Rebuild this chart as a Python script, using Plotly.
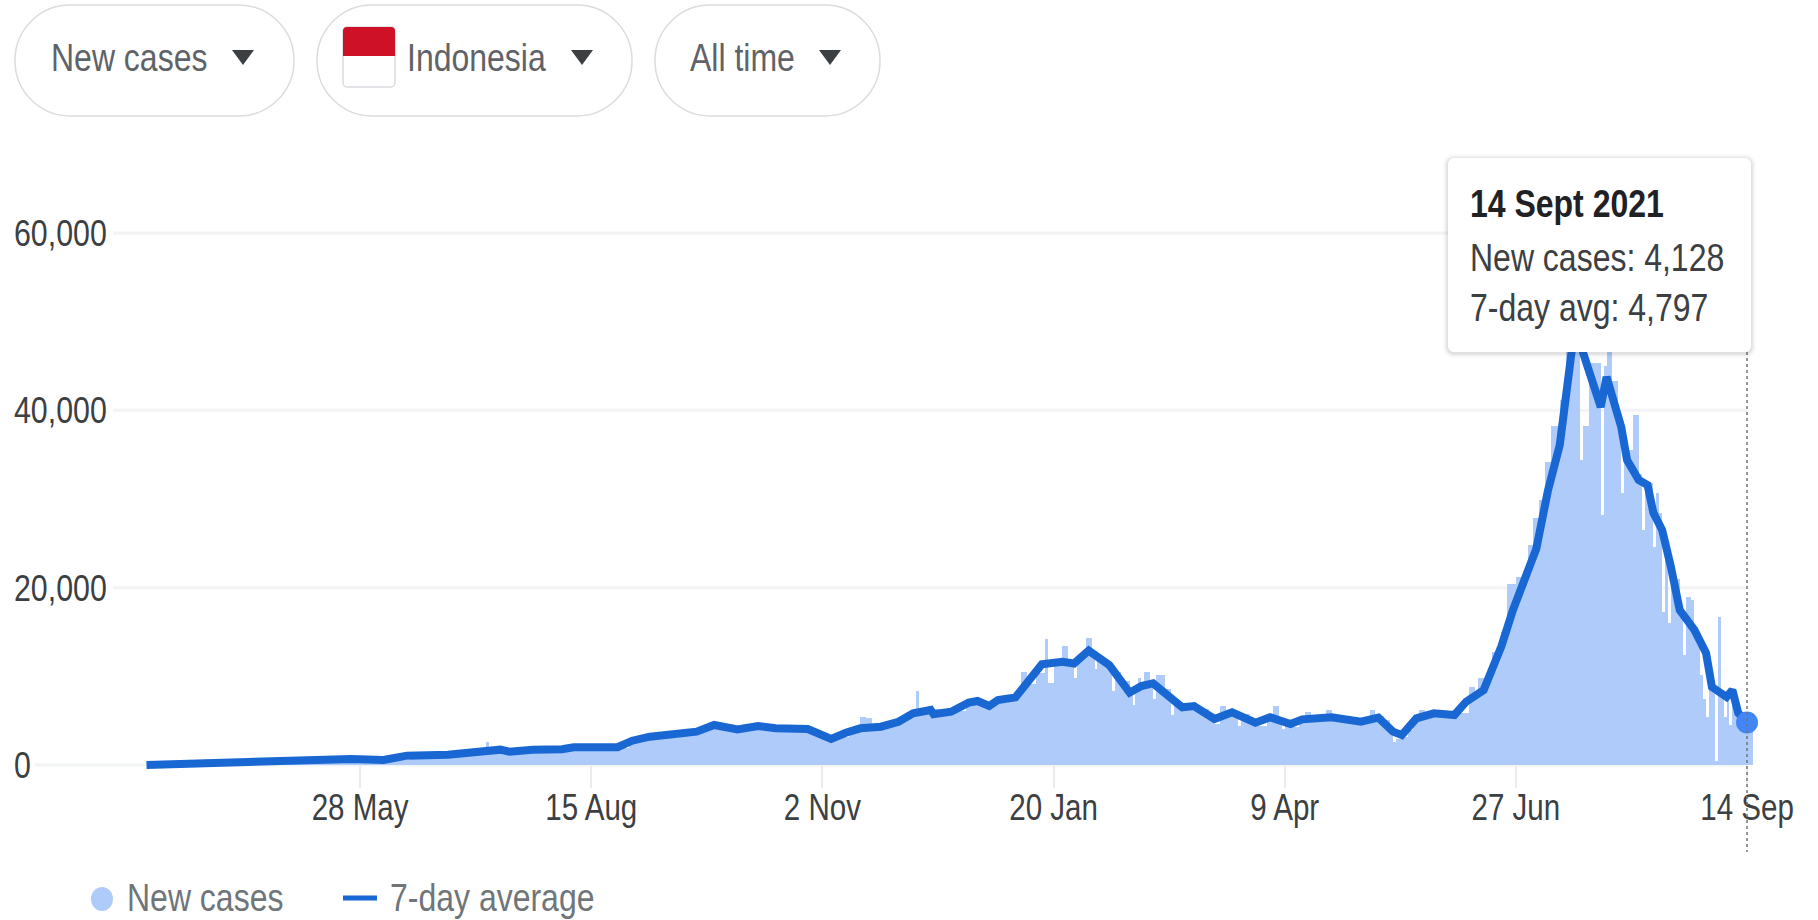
import pandas as pd
import plotly.graph_objects as go

START = pd.Timestamp("2020-03-16")
W, H = 1818, 920
FONT = "Liberation Sans, Arial, sans-serif"

bar_days = [
    0, 10, 20, 30, 40, 50, 60, 70, 80, 90,
    100, 110, 116, 117, 125, 135, 145, 155, 160, 165,
    170, 175, 180, 185, 190, 194, 198, 202, 206, 210,
    215, 220, 225, 229, 233, 236, 240, 244, 246, 248,
    252, 256, 260, 263, 264, 268, 272, 276, 280, 283,
    286, 290, 295, 299, 301, 304, 307, 308, 310, 313,
    315, 317, 318, 321, 323, 324, 325, 327, 330, 331,
    333, 336, 337, 338, 339, 340, 341, 343, 344, 345,
    348, 350, 351, 354, 357, 360, 363, 365, 367, 369,
    372, 373, 374, 377, 380, 383, 385, 387, 388, 389,
    391, 394, 396, 398, 403, 405, 410, 414, 416, 418,
    420, 423, 425, 426, 427, 429, 431, 433, 435, 437,
    440, 445, 449, 452, 454, 455, 458, 460, 463, 465,
    468, 472, 474, 476, 478, 480, 483, 485, 486, 487,
    489, 490, 491, 493, 497, 498, 499, 501, 503, 504,
    505, 508, 510, 511, 512, 515, 516, 517, 518, 519,
    520, 521, 522, 524, 525, 526, 528, 529, 530, 531,
    532, 533, 534, 535, 536, 537, 538, 539, 540, 541,
    542, 544, 546, 547,
]
new_cases = [
    50, 120, 220, 300, 400, 450, 500, 650, 560, 950,
    1100, 1300, 2630, 1650, 1500, 1750, 1900, 2050, 1950, 2700,
    3100, 3400, 3550, 3700, 4100, 4600, 4300, 4000, 4250, 4450,
    4150, 4100, 4100, 3600, 3000, 3200, 3800, 5400, 5300, 4300,
    4400, 4900, 5500, 8380, 6000, 6300, 5800, 6100, 7200, 7500,
    6800, 7400, 7800, 10500, 9200, 10400, 14200, 9250, 11800, 13500,
    11900, 9900, 12300, 14400, 12700, 10900, 12000, 11500, 8400, 10500,
    9500, 8300, 6800, 8200, 9900, 8700, 10500, 8700, 7500, 10150,
    8600, 5700, 7100, 6300, 6700, 6300, 5300, 4700, 6650, 6200,
    6000, 4400, 5800, 5000, 4400, 5700, 6650, 5200, 4100, 4900,
    4300, 5300, 6000, 5400, 6200, 5500, 5400, 4800, 4700, 6200,
    5600, 5100, 3400, 2600, 3000, 3200, 4000, 5300, 6200, 5600,
    5900, 5700, 5900, 8830, 8000, 9800, 9500, 12780, 15000, 20500,
    21200, 24800, 27860, 29900, 34200, 38240, 41170, 47000, 56757, 50000,
    49000, 34400, 38240, 45350, 28200, 45000, 47500, 43400, 38500, 30700,
    35530, 39480, 32900, 26500, 31800, 24600, 30700, 28500, 17260, 24500,
    16000, 23000, 21000, 18000, 12400, 18950, 18600, 15000, 14000, 10150,
    7500, 5400, 9000, 8500, 500, 16700, 8000, 5400, 7500, 4500,
    7000, 5500, 5000, 4128,
]

avg_days = [
    0, 21, 43, 70, 81, 89, 103, 116, 121, 124,
    132, 142, 146, 161, 166, 172, 179, 188, 194, 202,
    209, 215, 226, 234, 239, 244, 251, 257, 262, 268,
    269, 275, 281, 284, 288, 291, 297, 306, 313, 317,
    322, 329, 336, 340, 344, 350, 354, 358, 365, 371,
    379, 384, 391, 395, 405, 415, 421, 426, 429, 434,
    440, 447, 451, 457, 461, 463, 467, 475, 479, 483,
    487, 489, 491, 493, 497, 499, 504, 506, 510, 513,
    515, 518, 520, 521, 524, 526, 529, 533, 535, 540,
    542, 544, 547,
]
avg_cases = [
    0, 230, 450, 680, 560, 1050, 1160, 1610, 1730, 1500,
    1730, 1770, 2000, 2000, 2740, 3190, 3500, 3760, 4510, 4020,
    4400, 4140, 4060, 2930, 3640, 4140, 4320, 4880, 5830, 6200,
    5720, 6010, 7030, 7220, 6650, 7330, 7630, 11360, 11650, 11450,
    12900, 11280, 8160, 8900, 9210, 7520, 6510, 6650, 5190, 5940,
    4770, 5380, 4620, 5150, 5380, 4880, 5340, 3760, 3380, 5260,
    5830, 5640, 7140, 8460, 11470, 13340, 17480, 24400, 31000, 36100,
    46470, 51000, 46470, 44200, 40380, 43770, 38130, 34400, 32150, 31580,
    28430, 26500, 24250, 22330, 17480, 16580, 15230, 12630, 8800, 7670,
    8460, 5870, 4797,
]

x_tick_dates = ["2020-05-28", "2020-08-15", "2020-11-02", "2021-01-20",
                "2021-04-09", "2021-06-27", "2021-09-14"]
x_tick_labels = ["28 May", "15 Aug", "2 Nov", "20 Jan", "9 Apr", "27 Jun", "14 Sep"]
y_ticks = [0, 20000, 40000, 60000]
y_tick_labels = ["0", "20,000", "40,000", "60,000"]
y_grid_start_px = [35, 113, 113, 113]

PX_PER_DAY = 2.926
PX_DAY0 = 146.5
LEFT_PX = 11
BASE_PX, TOP_PX = 765, 233
Y_PAD = 5000  # extra axis room so the end tick labels are kept
PAD_PX = Y_PAD * (BASE_PX - TOP_PX) / 60000


def day(n):
    return START + pd.Timedelta(days=n)


def fx(px):
    return px / W


def fy(px):
    return 1 - px / H


def round_path(x0, y0, x1, y1, r):
    a, b, c, d = fx(x0), fy(y0), fx(x1), fy(y1)
    rx, ry = r / W, r / H
    kx, ky = rx * 0.45, ry * 0.45
    return (f"M{a+rx},{b} L{c-rx},{b} C{c-kx},{b} {c},{b-ky} {c},{b-ry} L{c},{d+ry} "
            f"C{c},{d+ky} {c-kx},{d} {c-rx},{d} L{a+rx},{d} C{a+kx},{d} {a},{d+ky} {a},{d+ry} "
            f"L{a},{b-ry} C{a},{b-ky} {a+kx},{b} {a+rx},{b} Z")


def tri(cx, cy_top, hw=11, h=15, col="#3c4043"):
    return dict(type="path", xref="paper", yref="paper",
                path=f"M{fx(cx-hw)},{fy(cy_top)} L{fx(cx+hw)},{fy(cy_top)} L{fx(cx)},{fy(cy_top+h)} Z",
                fillcolor=col, line_width=0)


def text(px, py, s, size=39, color="#5f6368", bold=False):
    return dict(xref="paper", yref="paper", x=fx(px), y=fy(py), xanchor="left", yanchor="middle",
                text=f"<b>{s}</b>" if bold else s, showarrow=False, align="left",
                font=dict(family=FONT, size=size, color=color))


bar_x = [day(d) for d in bar_days]
widths = [(b - a) * 86400000 for a, b in zip(bar_days, bar_days[1:])] + [2 * 86400000]

fig = go.Figure()
fig.add_bar(x=bar_x, y=new_cases, width=widths, offset=0, marker=dict(color="#aecbfa", line_width=0),
            name="New cases", hoverinfo="skip")
fig.add_scatter(x=[day(d) for d in avg_days], y=avg_cases, mode="lines", name="7-day average",
                line=dict(color="#1967d2", width=8), hoverinfo="skip")
fig.add_scatter(x=[day(avg_days[-1])], y=[avg_cases[-1]], mode="markers",
                marker=dict(color="#4285f4", size=22), hoverinfo="skip")

shapes = []
for v, s in zip(y_ticks, y_grid_start_px):
    shapes.append(dict(type="line", xref="paper", yref="y", x0=fx(s), x1=fx(1747), y0=v, y1=v,
                       line=dict(color="#f1f3f4", width=3), layer="below"))
shapes.append(dict(type="line", xref="x", yref="paper", x0=day(547), x1=day(547), y0=fy(352), y1=fy(852),
                   line=dict(color="#70757a", width=1.5, dash="dot")))

# control pills
for x0, x1 in [(15, 294), (317, 632), (655, 880)]:
    shapes.append(dict(type="path", xref="paper", yref="paper", path=round_path(x0, 5, x1, 116, 55),
                       line=dict(color="#dadce0", width=1.5), fillcolor="white"))
for cx in (243, 582, 830):
    shapes.append(tri(cx, 50))
shapes.append(dict(type="path", xref="paper", yref="paper", path=round_path(343, 27, 395, 87, 4),
                   line=dict(color="#dadce0", width=1.5), fillcolor="white"))
shapes.append(dict(type="path", xref="paper", yref="paper",
                   path=(f"M{fx(347)},{fy(27)} L{fx(391)},{fy(27)} Q{fx(395)},{fy(27)} {fx(395)},{fy(31)} "
                         f"L{fx(395)},{fy(56)} L{fx(343)},{fy(56)} L{fx(343)},{fy(31)} Q{fx(343)},{fy(27)} {fx(347)},{fy(27)} Z"),
                   line_width=0, fillcolor="#ce1126"))

# tooltip with soft shadow
for grow, alpha in [(5, 0.03), (3, 0.05), (1.5, 0.08)]:
    shapes.append(dict(type="path", xref="paper", yref="paper",
                       path=round_path(1448 - grow, 158 - grow + 1, 1751 + grow, 352 + grow + 1, 6 + grow),
                       line_width=0, fillcolor=f"rgba(60,64,67,{alpha})"))
shapes.append(dict(type="path", xref="paper", yref="paper", path=round_path(1448, 158, 1751, 352, 6),
                   line_width=0, fillcolor="white"))

# legend
shapes.append(dict(type="circle", xref="paper", yref="paper", x0=fx(91), x1=fx(113), y0=fy(887), y1=fy(911),
                   line_width=0, fillcolor="#aecbfa"))
shapes.append(dict(type="line", xref="paper", yref="paper", x0=fx(343), x1=fx(377), y0=fy(898), y1=fy(898),
                   line=dict(color="#1967d2", width=5)))

annotations = [
    text(48.5, 58, "New cases"),
    text(404.5, 58, "Indonesia"),
    text(687.5, 58, "All time"),
    text(1467.5, 203, "14 Sept 2021", color="#202124", bold=True),
    text(1467.5, 257, "New cases: 4,128", color="#3c4043"),
    text(1467.5, 307, "7-day avg: 4,797", color="#3c4043"),
    text(124.5, 897, "New cases", color="#70757a"),
    text(387.5, 897, "7-day average", color="#70757a"),
]

fig.update_layout(
    width=W, height=H, margin=dict(l=0, r=0, t=0, b=0), paper_bgcolor="white", plot_bgcolor="rgba(0,0,0,0)",
    showlegend=False, bargap=0, shapes=shapes, annotations=annotations,
    xaxis=dict(type="date", domain=[fx(LEFT_PX), 1], anchor="free", position=fy(BASE_PX),
               range=[day((LEFT_PX - PX_DAY0) / PX_PER_DAY), day((W - PX_DAY0) / PX_PER_DAY)],
               tickmode="array", tickvals=x_tick_dates, ticktext=x_tick_labels, showgrid=False, zeroline=False,
               ticks="outside", ticklen=22, tickwidth=2, tickcolor="#ebebeb", showline=False,
               ticklabelstandoff=-11, tickfont=dict(family=FONT, size=36, color="#3c4043")),
    yaxis=dict(domain=[fy(BASE_PX + PAD_PX), fy(TOP_PX - PAD_PX)], range=[-Y_PAD, 60000 + Y_PAD],
               tickmode="array", tickvals=y_ticks,
               ticktext=y_tick_labels, ticklabelposition="inside", showgrid=False, zeroline=False, showline=False,
               ticks="", tickfont=dict(family=FONT, size=37, color="#3c4043")),
)

# The reference type is horizontally condensed: narrow each real text element to 82% of its width.
SQUEEZE = """
document.body.style.margin='0';document.documentElement.style.overflow='hidden';
function squeezeText(){document.querySelectorAll('.main-svg text').forEach(function(t){
  if(t.dataset.sq||!t.textContent)return;var n=t.getComputedTextLength();if(!n)return;
  t.dataset.sq='1';t.setAttribute('textLength',n*0.82);t.setAttribute('lengthAdjust','spacingAndGlyphs');});}
squeezeText();setTimeout(squeezeText,50);setTimeout(squeezeText,300);
"""
fig.write_html("out.html", config=dict(displayModeBar=False), post_script=SQUEEZE)
